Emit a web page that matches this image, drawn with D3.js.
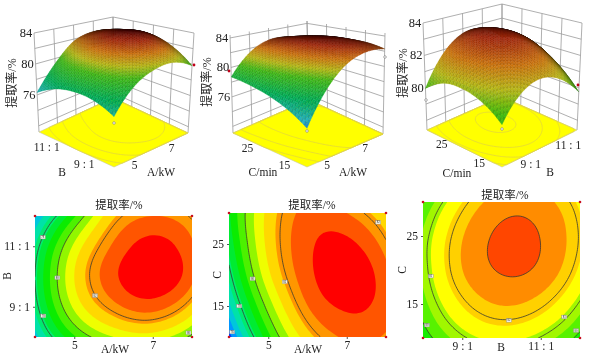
<!DOCTYPE html>
<html><head><meta charset="utf-8">
<script src="https://cdn.jsdelivr.net/npm/d3@7/dist/d3.min.js"></script>
<style>
html,body{margin:0;padding:0;background:#fff}
svg{display:block;filter:blur(0.35px)}
text{font-family:"Liberation Serif","Noto Sans CJK SC",serif;fill:#222}
</style></head><body><svg id="c" width="600" height="356"></svg>
<script>
// axis ranges and ticks
const aDomain=[4,8], bDomain=[8,12], cDomain=[10,30];
const aTicks=[5,7], bTicks=[9,11], cTicks=[15,25];
const bTickLabels=["9 : 1","11 : 1"];
const title="提取率/%";
// response values (rows: second factor low→high; columns: first factor low→high)
const gridAB=[
 [76.7,79.3,80.6,80.9,79.8],
 [77.7,80.73,82.2,82.65,81.6],
 [78.0,81.2,82.85,83.6,82.55],
 [77.6,80.73,82.5,83.25,82.5],
 [76.3,79.3,81.7,82.4,81.9]];
const gridAC=[
 [75.5,79.2,81.54,82.5,82.3],
 [76.85,80.25,82.39,83.1,82.7],
 [77.77,81.05,82.8,83.45,82.6],
 [78.37,81.4,82.85,83.15,82.1],
 [78.71,81.4,82.6,82.4,81.19]];
const gridBC=[
 [79.6,80.9,81.35,80.95,79.75],
 [80.37,81.85,82.44,82.12,80.91],
 [80.74,82.39,83.05,82.86,81.68],
 [80.7,82.36,83.12,82.98,81.94],
 [79.96,81.79,82.69,82.64,81.65]];
// contour levels and their in-line labels [x value, y value, level]
const levels12=[78,80,82], levels3=[80,81,82,83];
const labelsAB=[[4.2,11.3,78],[4.57,9.96,80],[5.53,9.37,82],[4.21,8.7,78],[7.91,8.14,80]];
const labelsAC=[[4.26,15,78],[4.6,19.4,80],[5.42,18.9,82],[4.08,10.8,76],[7.8,28.5,82]];
const labelsBC=[[8.2,19.1,81],[10.19,12.6,82],[11.6,13.1,81],[8.1,11.9,80],[11.9,11.1,80]];
// surface z axes
const zDomain1=[71.2,84], zDomain2=[71.1,84.4], zDomain3=[77.4,84];
const zTicks1=[76,80,84], zTicks3=[80,82,84];
const zGrid1=[72,74,76,78,80,82,84], zGrid3=[78,79,80,81,82,83,84];
// colour stops
const colourStops=[75.3,76.3,77.5,79,80.2,81,81.6,82,82.6,83,83.2];
const flatColours=["#001eff","#00b4ff","#00eb96","#00eb00","#82f500","#ffff00","#ffd000","#ffa000","#ff6400","#ff2800","#ff0000"];
const surfStops=[75,76,78,80,81,82,83,83.8];
const surfColours=["#0014b4","#22a2be","#00a050","#3caa14","#a8aa14","#bc6a0c","#96240a","#500000"];

const flat=d3.scaleLinear().domain(colourStops).range(flatColours).clamp(true);
const surf=d3.scaleLinear().domain(surfStops).range(surfColours).clamp(true);
const svg=d3.select("#c");

function cr(p0,p1,p2,p3,t){return 0.5*(2*p1+(p2-p0)*t+(2*p0-5*p1+4*p2-p3)*t*t+(3*p1-p0-3*p2+p3)*t*t*t);}
function sample(g,u,v){ // smooth tessellation between read nodes; u,v in 0..1
  const n=g.length-1, fx=u*n, fy=v*n, ix=Math.min(n-1,Math.floor(fx)), iy=Math.min(n-1,Math.floor(fy));
  const at=(j,i)=>{
    const ci=Math.max(0,Math.min(n,i)), cj=Math.max(0,Math.min(n,j));
    let val=g[cj][ci];
    if(i<0) val=3*g[cj][0]-3*g[cj][1]+g[cj][2]; if(i>n) val=3*g[cj][n]-3*g[cj][n-1]+g[cj][n-2];
    if(j<0) val=3*g[0][ci]-3*g[1][ci]+g[2][ci]; if(j>n) val=3*g[n][ci]-3*g[n-1][ci]+g[n-2][ci];
    return val;};
  const rows=[-1,0,1,2].map(d=>cr(at(iy+d,ix-1),at(iy+d,ix),at(iy+d,ix+1),at(iy+d,ix+2),fx-ix));
  return cr(rows[0],rows[1],rows[2],rows[3],fy-iy);
}
function tessellate(g,n){const o=[];for(let j=0;j<n;j++)for(let i=0;i<n;i++)o.push(sample(g,i/(n-1),j/(n-1)));return o;}

const panels=[
 {g:gridAB,xd:aDomain,yd:bDomain,xt:aTicks,yt:bTicks,xf:d=>d,yf:(d,i)=>bTickLabels[i],xl:"A/kW",yl:"B",
  lev:levels12,lab:labelsAB,rect:[35,216,192,337],titleP:[119,205],xlP:[115,349],ylP:[7,276],cshift:0,
  F:[114,167],L:[39,132],R:[188,133],B:[113,98],TF:[114,50],TL:[34,33],TR:[194,33],TB:[113,17],zd:zDomain1,zt:zTicks1,zg:zGrid1,
  zoff:[-8,0],xo:[2,6],yo:[-11,6],xlab:[161,172],ylab:[62,172],zlab:[12,83],red:[[194,65]],open:[[114,123]]},
 {g:gridAC,xd:aDomain,yd:cDomain,xt:aTicks,yt:cTicks,xf:d=>d,yf:d=>d,xl:"A/kW",yl:"C",
  lev:levels12,lab:labelsAC,rect:[229,213,386,337],titleP:[312,205],xlP:[308,349],ylP:[217,275],cshift:0,
  F:[307,167],L:[233,133],R:[383,134],B:[309,100],TF:[307,50],TL:[230,35],TR:[385,33],TB:[307,21],zd:zDomain2,zt:zTicks1,zg:zGrid1,
  zoff:[-8,0],xo:[1,6],yo:[-4,6],xlab:[353,172],ylab:[263,172],zlab:[207,82],red:[[229,71]],open:[[385,57],[307,131]]},
 {g:gridBC,xd:bDomain,yd:cDomain,xt:bTicks,yt:cTicks,xf:(d,i)=>bTickLabels[i],yf:d=>d,xl:"B",yl:"C",
  lev:levels3,lab:labelsBC,rect:[423,202,580,338],titleP:[505,195],xlP:[501,347],ylP:[402,270],cshift:-0.5,
  F:[502,167],L:[427,130],R:[577,130],B:[502,97],TF:[502,40],TL:[423,23],TR:[582,23],TB:[502,4],zd:zDomain3,zt:zTicks3,zg:zGrid3,
  zoff:[-8,0],xo:[10,6],yo:[-4,5],xlab:[550,172],ylab:[457,173],zlab:[403,73],red:[[578,85]],open:[[426,100],[502,129]]}
];

const thresholds=d3.range(74,84.01,0.6);
const N=64;
panels.forEach((p,pi)=>{ draw3d(p,pi); drawContour(p,pi); });

function lerp(a,b,t){return a+(b-a)*t;}
function projector(p){
  const su=d3.scaleLinear().domain(p.xd).range([0,1]), sv=d3.scaleLinear().domain(p.yd).range([0,1]), sw=d3.scaleLinear().domain(p.zd).range([0,1]);
  const f=(u,v,w)=>{
    const bx=lerp(lerp(p.F[0],p.R[0],u),lerp(p.L[0],p.B[0],u),v), by=lerp(lerp(p.F[1],p.R[1],u),lerp(p.L[1],p.B[1],u),v);
    const tx=lerp(lerp(p.TF[0],p.TR[0],u),lerp(p.TL[0],p.TB[0],u),v), ty=lerp(lerp(p.TF[1],p.TR[1],u),lerp(p.TL[1],p.TB[1],u),v);
    return [lerp(bx,tx,w),lerp(by,ty,w)];};
  return {su,sv,sw,f};
}
function label(g,x,y,t,size){g.append("text").attr("x",x).attr("y",y).attr("text-anchor","middle").attr("dominant-baseline","central").attr("font-size",size).text(t);}
function draw3d(p,pi){
  const g=svg.append("g"); const {su,sv,sw,f}=projector(p);
  const line=d3.line();
  const wallGrid=g.append("g").attr("stroke","#9a9a9a").attr("stroke-width",0.8).attr("fill","none");
  p.zg.forEach(z=>{const w=sw(z);
    wallGrid.append("path").attr("d",line([f(0,1,w),f(1,1,w),f(1,0,w)]));});
  d3.range(p.xd[0],p.xd[1]+.01,1).forEach(x=>{const u=su(x);
    wallGrid.append("path").attr("d",line([f(u,1,0),f(u,1,1)]));});
  d3.range(0,1.001,0.25).forEach(v=>{
    wallGrid.append("path").attr("d",line([f(1,v,0),f(1,v,1)]));});
  g.append("path").attr("d",line([f(0,0,0),f(1,0,0),f(1,1,0),f(0,1,0)])+"Z").attr("fill","#ffff00").attr("stroke","#c8c8a0").attr("stroke-width",0.6);
  const n=80, vals=tessellate(p.g,n);
  const floorPath=d3.geoPath(d3.geoTransform({point(x,y){const q=f(Math.max(0,Math.min(1,(x-.5)/(n-1))),Math.max(0,Math.min(1,(y-.5)/(n-1))),0);this.stream.point(q[0],q[1]);}}));
  g.append("g").selectAll("path").data(d3.contours().size([n,n]).thresholds(p.lev)(vals)).join("path")
    .attr("d",floorPath).attr("fill","none").attr("stroke","#e2d53c").attr("stroke-width",0.8);
  const M=46, quads=[];
  for(let i=M-1;i>=0;i--)for(let j=M-1;j>=0;j--){
    const pts=[[i,j],[i+1,j],[i+1,j+1],[i,j+1]].map(([a,b])=>{const u=a/M,v=b/M;const z=sample(p.g,u,v);return {z,q:f(u,v,sw(z)),b:f(u,v,0)};});
    const area=a=>Math.abs(d3.polygonArea(a));
    const ratio=area(pts.map(d=>d.q))/Math.max(area(pts.map(d=>d.b)),1e-6);
    quads.push({i,j,z:d3.mean(pts,d=>d.z),ratio,poly:pts.map(d=>d.q)});
  }
  const shade=d=>{const c=d3.rgb(surf(d.z));let k=Math.min(1.1,0.03+1.0*Math.sqrt(d.ratio));if((d.i+d.j)%2)k*=0.9;return d3.rgb(c.r*k,c.g*k,c.b*k);};
  g.append("g").selectAll("path").data(quads).join("path")
    .attr("d",d=>line(d.poly)+"Z").attr("fill",shade).attr("stroke",shade).attr("stroke-width",0.35);
  g.selectAll("circle.r").data(p.red).join("circle").attr("class","r").attr("cx",d=>d[0]).attr("cy",d=>d[1]).attr("r",1.4).attr("fill","#c00018");
  g.selectAll("circle.o").data(p.open).join("circle").attr("class","o").attr("cx",d=>d[0]).attr("cy",d=>d[1]).attr("r",1.3).attr("fill","#fff").attr("stroke","#777").attr("stroke-width",0.6);
  p.zt.forEach(z=>{const q=f(0,1,sw(z)); label(g,q[0]+p.zoff[0],q[1]+p.zoff[1],z,12.5);});
  g.append("text").attr("transform",`translate(${p.zlab[0]},${p.zlab[1]}) rotate(-90)`).attr("text-anchor","middle").attr("dominant-baseline","central").attr("font-size",12).text(title);
  p.xt.forEach((t,i)=>{const q=f(su(t),0,0); label(g,q[0]+p.xo[0],q[1]+p.xo[1],p.xf(t,i),11.5);});
  p.yt.forEach((t,i)=>{const q=f(0,sv(t),0); label(g,q[0]+p.yo[0],q[1]+p.yo[1],p.yf(t,i),11.5);});
  label(g,p.xlab[0],p.xlab[1],p.xl,11.5);
  label(g,p.ylab[0],p.ylab[1],p.yl==="C"?"C/min":p.yl,11.5);
}
function drawContour(p,pi){
  const [x0,y0,x1,y1]=p.rect;
  const x=d3.scaleLinear().domain(p.xd).range([x0,x1]), y=d3.scaleLinear().domain(p.yd).range([y1,y0]);
  const g=svg.append("g");
  const id="clip"+pi;
  g.append("clipPath").attr("id",id).append("rect").attr("x",x0).attr("y",y0).attr("width",x1-x0).attr("height",y1-y0);
  const vals=tessellate(p.g,N);
  const gx=d3.scaleLinear().domain([0.5,N-0.5]).range(p.xd), gy=d3.scaleLinear().domain([0.5,N-0.5]).range(p.yd);
  const path=d3.geoPath(d3.geoTransform({point(a,b){this.stream.point(x(gx(a)),y(gy(b)));}}));
  const body=g.append("g").attr("clip-path",`url(#${id})`);
  body.append("g").selectAll("path").data(d3.contours().size([N,N]).thresholds(thresholds)(vals)).join("path")
    .attr("d",path).attr("fill",d=>flat(d.value+0.3+p.cshift)).attr("stroke","none");
  body.append("g").selectAll("path").data(d3.contours().size([N,N]).thresholds(p.lev)(vals)).join("path")
    .attr("d",path).attr("fill","none").attr("stroke","#3a3a30").attr("stroke-width",0.8);
  const lg=g.append("g");
  p.lab.forEach(([a,b,l])=>{
    lg.append("rect").attr("x",x(a)-2.5).attr("y",y(b)-1.8).attr("width",5).attr("height",3.6).attr("fill","#f4f4ea").attr("stroke","#888").attr("stroke-width",0.4);
    lg.append("text").attr("x",x(a)).attr("y",y(b)).attr("text-anchor","middle").attr("dominant-baseline","central").attr("font-size",3).text(l);
  });
  [[x0,y0],[x1,y0],[x0,y1],[x1,y1]].forEach(q=>g.append("circle").attr("cx",q[0]).attr("cy",q[1]).attr("r",1.3).attr("fill","#c81020"));
  const ax=g.append("g").attr("transform",`translate(0,${y1})`).call(d3.axisBottom(x).tickValues(p.xt).tickSize(2).tickPadding(2).tickFormat(p.xf));
  const ay=g.append("g").attr("transform",`translate(${x0},0)`).call(d3.axisLeft(y).tickValues(p.yt).tickSize(2).tickPadding(3).tickFormat(p.yf));
  [ax,ay].forEach(a=>{a.select(".domain").remove();a.attr("font-family",null).attr("font-size",null);a.selectAll("text").attr("font-size",11.5).attr("fill","#222");a.selectAll("line").attr("stroke","#555");});
  label(g,p.titleP[0],p.titleP[1],title,11.5);
  label(g,p.xlP[0],p.xlP[1],p.xl,11.5);
  g.append("text").attr("transform",`translate(${p.ylP[0]},${p.ylP[1]}) rotate(-90)`).attr("text-anchor","middle").attr("dominant-baseline","central").attr("font-size",11.5).text(p.yl);
}
</script></body></html>
